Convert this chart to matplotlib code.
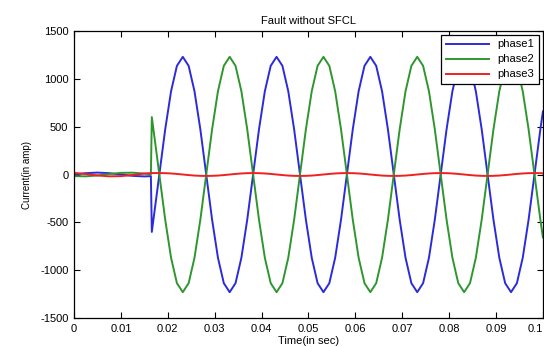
import numpy as np
import matplotlib.pyplot as plt

plt.rc('font', family=['Liberation Sans', 'DejaVu Sans'])
plt.rc('axes', unicode_minus=False)

# Time samples (s)
t = [0.0, 0.0025, 0.005, 0.0075, 0.01, 0.0125, 0.015, 0.0164, 0.0166,
     0.01820, 0.01945, 0.02070, 0.02195, 0.02320, 0.02445, 0.02570, 0.02695,
     0.02820, 0.02945, 0.03070, 0.03195, 0.03320, 0.03445, 0.03570, 0.03695,
     0.03820, 0.03945, 0.04070, 0.04195, 0.04320, 0.04445, 0.04570, 0.04695,
     0.04820, 0.04945, 0.05070, 0.05195, 0.05320, 0.05445, 0.05570, 0.05695,
     0.05820, 0.05945, 0.06070, 0.06195, 0.06320, 0.06445, 0.06570, 0.06695,
     0.06820, 0.06945, 0.07070, 0.07195, 0.07320, 0.07445, 0.07570, 0.07695,
     0.07820, 0.07945, 0.08070, 0.08195, 0.08320, 0.08445, 0.08570, 0.08695,
     0.08820, 0.08945, 0.09070, 0.09195, 0.09320, 0.09445, 0.09570, 0.09695,
     0.09820, 0.09945, 0.10000]

# Phase currents (A)
phase1 = [0, 14, 20, 14, 0, -14, -20, -17, -600,
          0, 471, 870, 1136, 1230, 1136, 870, 471,
          0, -471, -870, -1136, -1230, -1136, -870, -471,
          0, 471, 870, 1136, 1230, 1136, 870, 471,
          0, -471, -870, -1136, -1230, -1136, -870, -471,
          0, 471, 870, 1136, 1230, 1136, 870, 471,
          0, -471, -870, -1136, -1230, -1136, -870, -471,
          0, 471, 870, 1136, 1230, 1136, 870, 471,
          0, -471, -870, -1136, -1230, -1136, -870, -471,
          0, 471, 659]
phase2 = [-17, -19, -10, 5, 17, 19, 10, 2, 600,
          0, -471, -870, -1136, -1230, -1136, -870, -471,
          0, 471, 870, 1136, 1230, 1136, 870, 471,
          0, -471, -870, -1136, -1230, -1136, -870, -471,
          0, 471, 870, 1136, 1230, 1136, 870, 471,
          0, -471, -870, -1136, -1230, -1136, -870, -471,
          0, 471, 870, 1136, 1230, 1136, 870, 471,
          0, -471, -870, -1136, -1230, -1136, -870, -471,
          0, 471, 870, 1136, 1230, 1136, 870, 471,
          0, -471, -659]
phase3 = [17, 5, -10, -19, -17, -5, 10, 15, 15,
          15, 14, 11, 6, 0, -6, -11, -14,
          -15, -14, -11, -6, 0, 6, 11, 14,
          15, 14, 11, 6, 0, -6, -11, -14,
          -15, -14, -11, -6, 0, 6, 11, 14,
          15, 14, 11, 6, 0, -6, -11, -14,
          -15, -14, -11, -6, 0, 6, 11, 14,
          15, 14, 11, 6, 0, -6, -11, -14,
          -15, -14, -11, -6, 0, 6, 11, 14,
          15, 14, 12]

xticks = [0, 0.01, 0.02, 0.03, 0.04, 0.05, 0.06, 0.07, 0.08, 0.09, 0.1]
xticklabels = ['0', '0.01', '0.02', '0.03', '0.04', '0.05', '0.06', '0.07', '0.08', '0.09', '0.1']
yticks = [-1500, -1000, -500, 0, 500, 1000, 1500]

fig = plt.figure(figsize=(5.44, 3.47), dpi=100)
ax = fig.add_axes([0.136, 0.0836, 0.862, 0.827])

ax.plot(t, phase1, color='#2b2bdc', lw=1.4, label='phase1')
ax.plot(t, phase2, color='#2f962f', lw=1.4, label='phase2')
ax.plot(t, phase3, color='#f02020', lw=1.4, label='phase3')

ax.set_xlim(0, 0.1)
ax.set_ylim(-1500, 1500)
ax.set_xticks(xticks)
ax.set_xticklabels(xticklabels)
ax.get_xticklabels()[-1].set_horizontalalignment('right')
ax.set_yticks(yticks)
ax.tick_params(direction='in', length=4, width=0.8, top=True, right=True, labelsize=8, pad=4)
for s in ax.spines.values():
    s.set_linewidth(0.9)

ax.set_title('Fault without SFCL', fontsize=8, pad=5)
ax.set_xlabel('Time(in sec)', fontsize=8, labelpad=1.5)
ax.set_ylabel('Current(in amp)', fontsize=7, labelpad=6)

leg = ax.legend(loc='upper right', bbox_to_anchor=(0.9915, 0.986), borderaxespad=0,
                fontsize=8, handlelength=3.9, fancybox=False, framealpha=1,
                edgecolor='black', borderpad=0.4, labelspacing=0.45)
leg.get_frame().set_linewidth(0.9)

fig.savefig('out.png', dpi=100)
